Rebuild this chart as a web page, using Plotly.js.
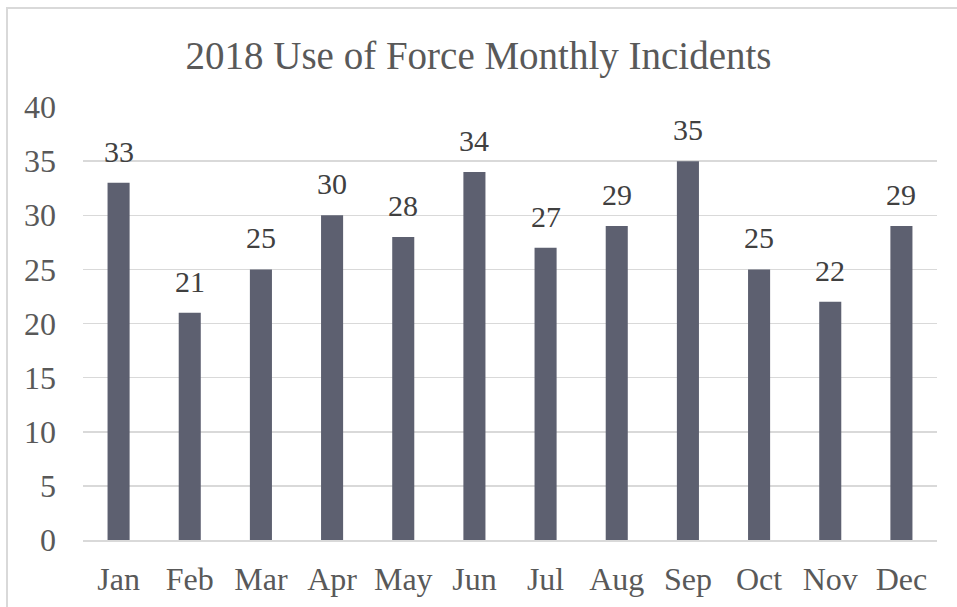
<!DOCTYPE html>
<html>
<head>
<meta charset="utf-8">
<script src="https://cdn.plot.ly/plotly-3.0.1.min.js"></script>
<style>
  html, body { margin: 0; padding: 0; background: #fff; }
  #wrap { position: relative; width: 957px; height: 607px; }
  #chart { position: absolute; left: 0; top: 0; width: 957px; height: 607px; }
  #frame { position: absolute; left: 6px; top: 7px; width: 951px; height: 600px;
           border-left: 2px solid #d9d9d9; border-top: 2px solid #d9d9d9; box-sizing: border-box;
           pointer-events: none; }
</style>
</head>
<body>
<div id="wrap">
  <div id="chart"></div>
  <div id="frame"></div>
</div>
<script>
const months = ["Jan","Feb","Mar","Apr","May","Jun","Jul","Aug","Sep","Oct","Nov","Dec"];
const incidents = [33, 21, 25, 30, 28, 34, 27, 29, 35, 25, 22, 29];
const yTicks = [0, 5, 10, 15, 20, 25, 30, 35, 40];

const serif = "Liberation Serif, Times New Roman, serif";

const trace = {
  type: "bar",
  x: months,
  y: incidents,
  marker: { color: "#5d6070" },
  cliponaxis: false,
  hoverinfo: "skip"
};

// value labels above each bar
const labels = months.map((m, i) => ({
  x: m,
  y: incidents[i],
  xref: "x",
  yref: "y",
  text: String(incidents[i]),
  showarrow: false,
  yanchor: "bottom",
  yshift: 13,
  font: { family: serif, size: 30, color: "#404040" }
}));

const layout = {
  width: 957,
  height: 607,
  margin: { l: 83, r: 20, t: 107, b: 67 },
  paper_bgcolor: "#ffffff",
  plot_bgcolor: "#ffffff",
  bargap: 0.69,
  showlegend: false,
  font: { family: serif, color: "#595959" },
  title: {
    text: "2018 Use of Force Monthly Incidents",
    font: { family: serif, size: 39, color: "#595959" },
    x: 0.5, xanchor: "center",
    y: 1 - 55 / 607, yanchor: "middle", yref: "container"
  },
  xaxis: {
    tickfont: { family: serif, size: 32, color: "#595959" },
    showgrid: false,
    showline: true,
    linecolor: "#d9d9d9",
    linewidth: 2,
    ticks: "",
    ticklabelstandoff: 10
  },
  yaxis: {
    range: [0, 40],
    tickvals: yTicks,
    tickfont: { family: serif, size: 32, color: "#595959" },
    showgrid: true,
    gridcolor: "#d9d9d9",
    gridwidth: 1.5,
    zeroline: false,
    showline: false,
    ticks: "",
    ticklabelstandoff: 26
  },
  annotations: labels
};

Plotly.newPlot("chart", [trace], layout, { displayModeBar: false, staticPlot: true });
</script>
</body>
</html>
